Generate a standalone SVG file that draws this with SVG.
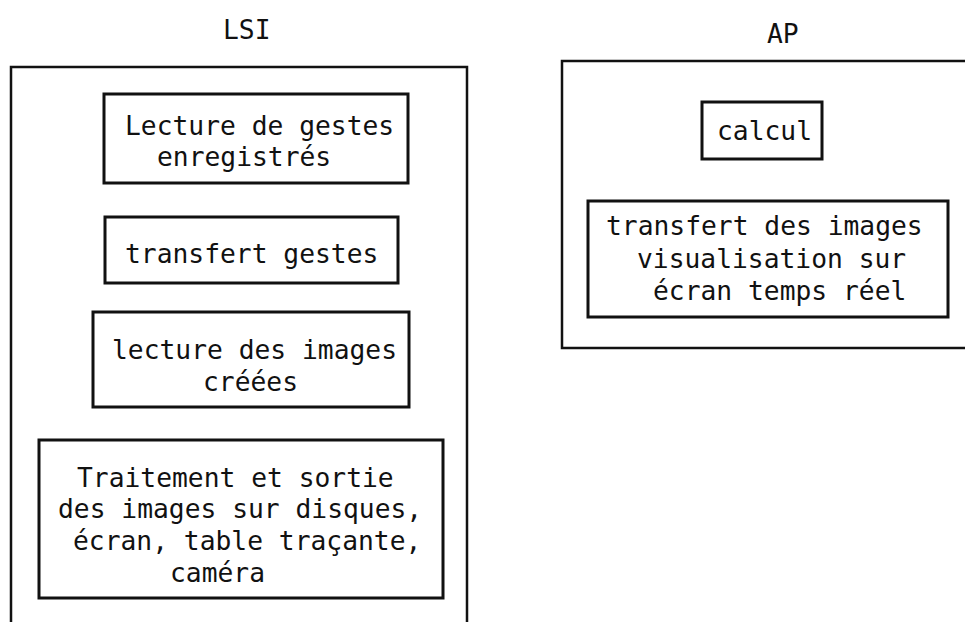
<svg xmlns="http://www.w3.org/2000/svg" width="965" height="622" viewBox="0 0 965 622">
<style>
.t{font-family:"DejaVu Sans Mono","Liberation Mono",monospace;font-size:26.3px;fill:#111}
.b{fill:none;stroke:#111;stroke-width:3}
.o{fill:none;stroke:#111;stroke-width:2.5}
</style>
<rect width="965" height="622" fill="#fff"/>
<g id="lsi">
<text class="t" x="223" y="39">LSI</text>
<path class="o" d="M11,624 V67 H467 V624"/>
</g>
<g id="ap">
<text class="t" x="767" y="43">AP</text>
<path class="o" d="M968,61 H562 V348 H968"/>
</g>
<g id="n1">
<rect class="b" x="104" y="94" width="304" height="89"/>
<text class="t" x="125" y="135">Lecture de gestes</text>
<text class="t" x="157" y="166">enregistrés</text>
</g>
<g id="n2">
<rect class="b" x="105" y="217" width="293" height="66"/>
<text class="t" x="125" y="263">transfert gestes</text>
</g>
<g id="n3">
<rect class="b" x="93" y="312" width="316" height="95"/>
<text class="t" x="112" y="359">lecture des images</text>
<text class="t" x="203" y="391">créées</text>
</g>
<g id="n4">
<rect class="b" x="39" y="440" width="404" height="158"/>
<text class="t" x="77" y="487">Traitement et sortie</text>
<text class="t" x="58" y="518">des images sur disques,</text>
<text class="t" x="73" y="550">écran, table traçante,</text>
<text class="t" x="170" y="582">caméra</text>
</g>
<g id="n5">
<rect class="b" x="702" y="102" width="120" height="57"/>
<text class="t" x="717" y="140">calcul</text>
</g>
<g id="n6">
<rect class="b" x="588" y="201" width="360" height="116"/>
<text class="t" x="606" y="235">transfert des images</text>
<text class="t" x="637" y="268">visualisation sur</text>
<text class="t" x="653" y="300">écran temps réel</text>
</g>
<g id="connectors"/>
</svg>
